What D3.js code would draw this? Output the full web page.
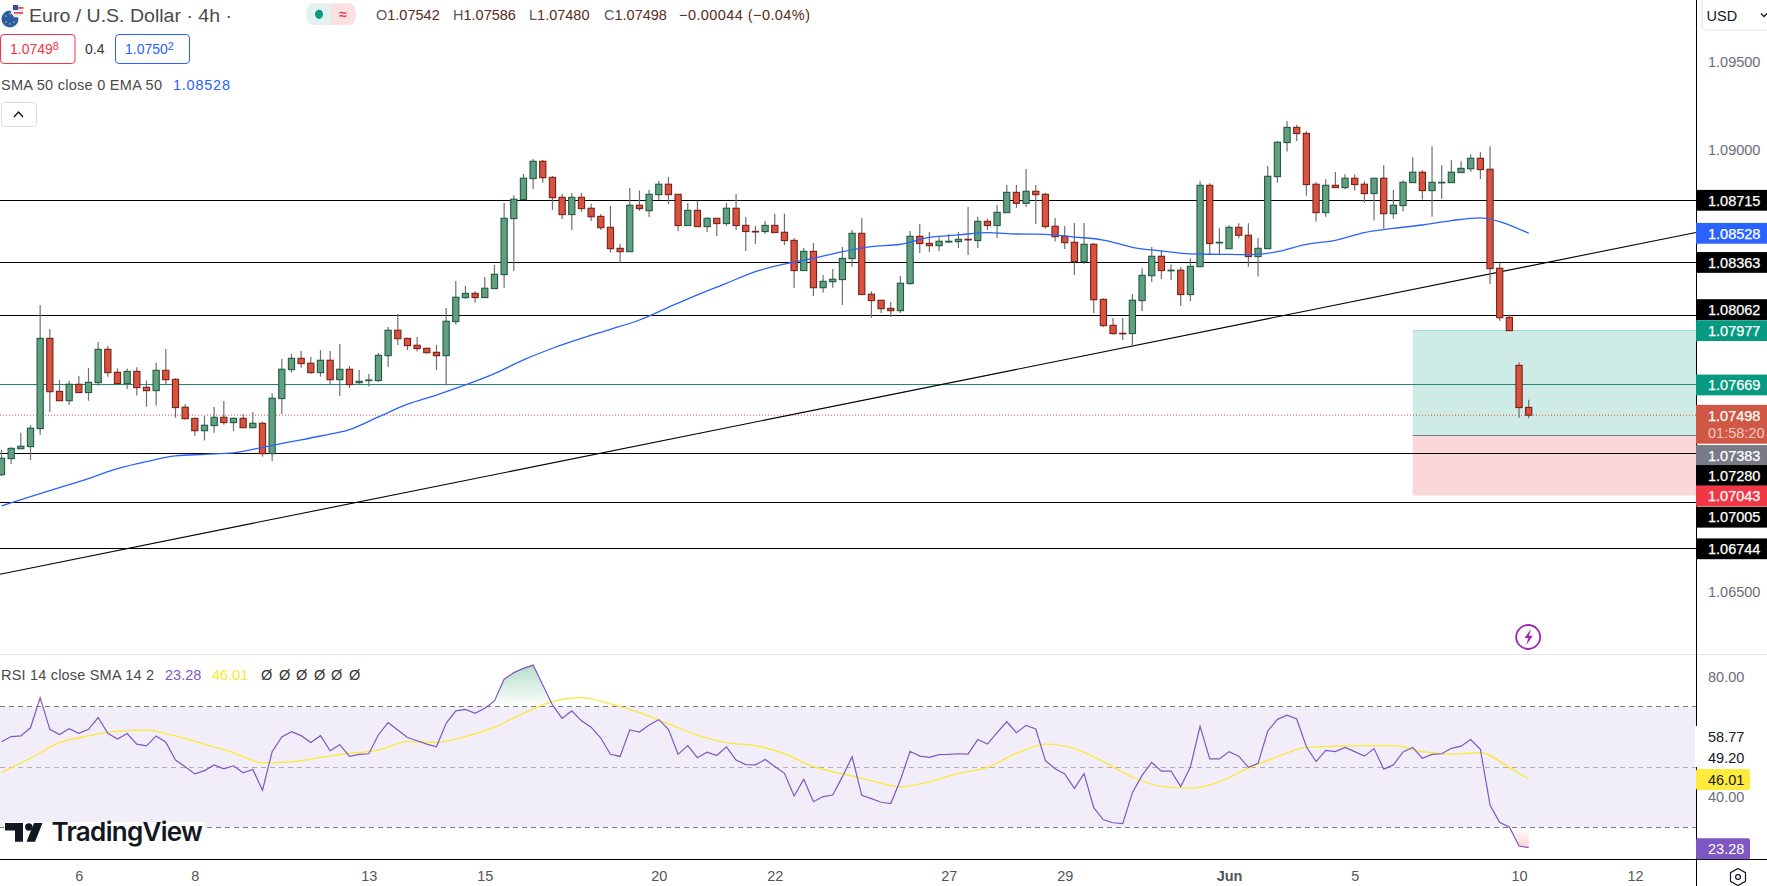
<!DOCTYPE html>
<html><head><meta charset="utf-8">
<style>html,body{margin:0;padding:0;background:#fff}svg{display:block}
text{font-family:"Liberation Sans",sans-serif}</style>
<script src="https://d3js.org/d3.v7.min.js"></script></head><body><svg id="c" width="1767" height="886"></svg>
<script>
const opens=[1.07161,1.07252,1.07308,1.07320,1.07422,1.07933,1.07633,1.07580,1.07673,1.07626,
1.07682,1.07871,1.07741,1.07677,1.07746,1.07656,1.07637,1.07752,1.07701,1.07543,
1.07480,1.07410,1.07439,1.07486,1.07456,1.07480,1.07427,1.07452,1.07280,1.07592,
1.07756,1.07820,1.07792,1.07739,1.07809,1.07699,1.07758,1.07682,1.07694,1.07694,
1.07835,1.07979,1.07933,1.07894,1.07877,1.07854,1.07835,1.08028,1.08164,1.08188,
1.08164,1.08215,1.08294,1.08611,1.08719,1.08838,1.08936,1.08845,1.08732,1.08634,
1.08732,1.08670,1.08624,1.08562,1.08443,1.08424,1.08687,1.08656,1.08747,1.08806,
1.08749,1.08572,1.08658,1.08566,1.08613,1.08583,1.08670,1.08573,1.08539,1.08538,
1.08573,1.08534,1.08488,1.08317,1.08426,1.08220,1.08254,1.08266,1.08385,1.08528,
1.08183,1.08149,1.08103,1.08090,1.08243,1.08511,1.08471,1.08458,1.08479,1.08481,
1.08494,1.08487,1.08596,1.08572,1.08645,1.08760,1.08698,1.08766,1.08749,1.08568,
1.08511,1.08477,1.08368,1.08466,1.08154,1.08007,1.07962,1.07960,1.08147,1.08288,
1.08398,1.08317,1.08319,1.08181,1.08339,1.08800,1.08475,1.08441,1.08562,1.08517,
1.08396,1.08441,1.08849,1.09042,1.09128,1.09094,1.08806,1.08645,1.08800,1.08787,
1.08840,1.08806,1.08753,1.08840,1.08639,1.08685,1.08815,1.08874,1.08770,1.08815,
1.08815,1.08872,1.08894,1.08953,1.08891,1.08330,1.08052,1.07780,1.07542];
const highs=[1.07301,1.07316,1.07399,1.07442,1.08122,1.07986,1.07697,1.07692,1.07720,1.07765,
1.07913,1.07890,1.07763,1.07763,1.07769,1.07695,1.07794,1.07873,1.07707,1.07560,
1.07484,1.07493,1.07544,1.07578,1.07486,1.07505,1.07516,1.07461,1.07622,1.07816,
1.07845,1.07862,1.07828,1.07867,1.07862,1.07901,1.07777,1.07754,1.07731,1.07850,
1.07998,1.08071,1.07937,1.07941,1.07880,1.07896,1.08105,1.08258,1.08230,1.08200,
1.08281,1.08349,1.08700,1.08743,1.08864,1.08949,1.08943,1.08853,1.08751,1.08757,
1.08757,1.08696,1.08638,1.08683,1.08468,1.08785,1.08770,1.08774,1.08824,1.08847,
1.08749,1.08700,1.08713,1.08619,1.08613,1.08700,1.08751,1.08621,1.08570,1.08598,
1.08639,1.08639,1.08502,1.08445,1.08473,1.08292,1.08326,1.08451,1.08547,1.08615,
1.08200,1.08149,1.08139,1.08286,1.08541,1.08581,1.08536,1.08509,1.08524,1.08536,
1.08677,1.08621,1.08611,1.08689,1.08802,1.08802,1.08892,1.08802,1.08757,1.08615,
1.08570,1.08587,1.08587,1.08473,1.08160,1.08049,1.08049,1.08184,1.08330,1.08451,
1.08432,1.08351,1.08337,1.08386,1.08824,1.08811,1.08556,1.08573,1.08585,1.08585,
1.08502,1.08909,1.09049,1.09164,1.09142,1.09106,1.08817,1.08834,1.08875,1.08862,
1.08862,1.08823,1.08840,1.08913,1.08774,1.08828,1.08959,1.08885,1.09021,1.08913,
1.08942,1.08936,1.08976,1.08987,1.09021,1.08358,1.08067,1.07797,1.07586];
const lows=[1.07154,1.07222,1.07308,1.07244,1.07386,1.07516,1.07580,1.07556,1.07626,1.07580,
1.07665,1.07716,1.07673,1.07646,1.07609,1.07546,1.07552,1.07667,1.07484,1.07473,
1.07382,1.07354,1.07399,1.07444,1.07408,1.07427,1.07427,1.07263,1.07239,1.07505,
1.07739,1.07767,1.07733,1.07716,1.07667,1.07607,1.07652,1.07667,1.07660,1.07686,
1.07771,1.07896,1.07867,1.07858,1.07847,1.07754,1.07667,1.08011,1.08156,1.08135,
1.08164,1.08215,1.08220,1.08315,1.08717,1.08779,1.08815,1.08660,1.08609,1.08547,
1.08649,1.08598,1.08547,1.08419,1.08362,1.08424,1.08655,1.08621,1.08717,1.08694,
1.08541,1.08572,1.08566,1.08536,1.08513,1.08570,1.08547,1.08428,1.08468,1.08524,
1.08532,1.08462,1.08218,1.08317,1.08173,1.08192,1.08220,1.08122,1.08339,1.08181,
1.08050,1.08077,1.08056,1.08077,1.08237,1.08417,1.08422,1.08428,1.08473,1.08445,
1.08405,1.08445,1.08547,1.08502,1.08645,1.08672,1.08677,1.08581,1.08555,1.08481,
1.08439,1.08292,1.08356,1.08077,1.07999,1.07954,1.07924,1.07890,1.08088,1.08252,
1.08269,1.08264,1.08116,1.08145,1.08339,1.08405,1.08411,1.08441,1.08500,1.08339,
1.08283,1.08441,1.08815,1.08991,1.09051,1.08741,1.08594,1.08622,1.08787,1.08777,
1.08770,1.08702,1.08600,1.08555,1.08611,1.08651,1.08815,1.08719,1.08622,1.08724,
1.08815,1.08872,1.08877,1.08836,1.08241,1.08033,1.07977,1.07484,1.07480];
const closes=[1.07254,1.07310,1.07322,1.07424,1.07933,1.07631,1.07580,1.07673,1.07626,1.07684,
1.07871,1.07739,1.07677,1.07746,1.07654,1.07637,1.07752,1.07699,1.07541,1.07478,
1.07410,1.07441,1.07486,1.07456,1.07480,1.07427,1.07452,1.07280,1.07594,1.07758,
1.07820,1.07790,1.07739,1.07809,1.07699,1.07758,1.07671,1.07690,1.07697,1.07837,
1.07979,1.07931,1.07892,1.07875,1.07852,1.07835,1.08030,1.08166,1.08188,1.08164,
1.08217,1.08296,1.08613,1.08721,1.08840,1.08936,1.08843,1.08730,1.08634,1.08732,
1.08668,1.08622,1.08560,1.08441,1.08424,1.08687,1.08668,1.08749,1.08806,1.08747,
1.08572,1.08658,1.08566,1.08613,1.08583,1.08670,1.08572,1.08538,1.08538,1.08573,
1.08532,1.08487,1.08317,1.08426,1.08220,1.08256,1.08268,1.08386,1.08528,1.08181,
1.08147,1.08101,1.08090,1.08245,1.08511,1.08470,1.08458,1.08483,1.08483,1.08494,
1.08492,1.08596,1.08572,1.08647,1.08760,1.08698,1.08766,1.08747,1.08566,1.08509,
1.08475,1.08368,1.08466,1.08152,1.08005,1.07960,1.07960,1.08149,1.08290,1.08398,
1.08317,1.08319,1.08181,1.08341,1.08800,1.08470,1.08477,1.08562,1.08517,1.08396,
1.08443,1.08851,1.09044,1.09128,1.09093,1.08804,1.08645,1.08800,1.08787,1.08840,
1.08804,1.08753,1.08840,1.08639,1.08687,1.08817,1.08874,1.08770,1.08817,1.08817,
1.08874,1.08896,1.08953,1.08889,1.08328,1.08050,1.07977,1.07541,1.07498];

const emaBars=[0,3,6,9,12,15,18,21,24,27,30,33,36,39,42,45,48,51,54,57,60,63,66,69,72,75,78,81,84,87,90,93,96,99,102,105,108,111,114,117,120,123,126,129,132,135,138,141,144,147,150,153,156,158];
const emaValues=[1.06984,1.07037,1.07088,1.07139,1.07195,1.07235,1.07267,1.07276,1.07284,1.07316,1.07348,1.07380,1.07416,1.07488,1.07560,1.07612,1.07669,1.07733,1.07811,1.07877,1.07933,1.07984,1.08037,1.08109,1.08179,1.08245,1.08311,1.08354,1.08386,1.08424,1.08453,1.08466,1.08505,1.08519,1.08532,1.08524,1.08522,1.08507,1.08490,1.08449,1.08428,1.08411,1.08409,1.08407,1.08424,1.08466,1.08488,1.08532,1.08556,1.08575,1.08600,1.08615,1.08575,1.08528];

const rsiValues=[58.4,60.1,60.3,63.0,73.0,62.5,60.8,62.7,61.2,62.5,66.4,61.2,59.3,61.1,57.6,57.0,60.3,58.2,52.3,50.1,
47.7,48.8,50.7,49.4,50.4,48.1,49.2,42.3,55.1,60.0,61.7,60.4,58.1,60.4,55.4,57.4,53.5,54.2,54.4,60.7,
64.7,62.3,59.8,58.7,57.6,56.7,64.5,68.6,69.1,67.8,69.5,71.9,79.1,81.3,82.7,83.8,77.2,70.6,66.1,68.6,
65.3,63.2,59.6,54.2,53.5,62.3,61.6,63.9,65.7,62.5,54.2,57.1,53.1,54.9,53.8,56.7,52.3,50.8,50.7,52.5,
50.2,47.9,40.4,45.9,38.5,40.2,40.7,46.8,53.4,40.6,39.5,38.3,37.9,45.7,55.2,53.6,53.2,54.1,54.2,54.4,
54.3,59.1,57.6,61.4,65.0,61.4,63.8,62.6,52.1,49.4,47.7,42.9,47.8,36.5,32.5,31.5,31.2,41.5,47.2,51.5,
48.6,48.6,43.5,50.0,63.5,52.7,52.7,55.1,53.6,49.9,51.2,61.9,65.8,67.2,65.9,56.7,51.8,55.5,55.1,56.5,
55.1,53.6,56.1,49.3,50.7,55.0,56.5,52.9,54.2,54.4,56.2,56.9,59.1,55.9,37.4,31.6,30.1,23.8,23.28];
const smaBars=[0,3,6,9,12,15,18,21,24,27,30,33,36,39,42,45,48,51,54,57,60,63,66,69,72,75,78,81,84,87,90,93,96,99,102,105,108,111,114,117,120,123,126,129,132,135,138,141,144,147,150,153,156,158];
const smaValues=[48.2,52.9,58.1,60.3,61.9,62.2,60.3,57.6,54.8,51.4,51.7,53.2,54.5,55.6,58.4,58.2,60.1,63.2,67.8,71.7,73.0,70.9,68.0,64.3,60.6,58.1,57.1,54.4,50.1,47.7,45.5,43.4,45.1,47.9,49.9,54.5,57.6,56.1,51.8,46.6,43.6,43.0,45.1,49.6,53.4,56.5,56.9,57.1,57.1,55.1,54.3,54.8,49.8,46.01];

const blackLevels=[1.08715,1.08363,1.08062,1.07280,1.07005,1.06744];
const entryLevel=1.07669, lastPrice=1.07498;
const trendBars=[-0.155,175.3], trendPrices=[1.06597,1.08533];
const positionStartBar=146, targetPrice=1.07977, entryPrice=1.07383, stopPrice=1.07043;
const priceTicks=[1.095,1.09,1.065];
const rsiTicks=[80,40];
const rsiLevels=[70,50,30];
const dateBars=[8,20,38,50,68,80,98,110,127,140,157,169];
const dateLabels=["6","8","13","15","20","22","27","29","Jun","5","10","12"];

const priceTags=["1.08715","1.08528","1.08363","1.08062","1.07977","1.07669","1.07383","1.07280","1.07043","1.07005","1.06744"];
const tagFills=["#000","#2962ff","#000","#000","#089981","#089981","#787b86","#000","#f23645","#000","#000"];
const tagShift=[0,0,0,-6,0,0,20,21.8,0.5,15,0.5];

const svg=d3.select("#c");
const W=1767,axisX=1696;
const x=d3.scaleLinear().domain([0,158]).range([1.5,1528.7]);
const y=d3.scaleLinear().domain([1.08715,1.06744]).range([200.3,548.3]);
const r=d3.scaleLinear().domain([70,30]).range([706.7,827.3]);

const defs=svg.append("defs");
defs.append("clipPath").attr("id","mainClip").append("rect").attr("width",axisX).attr("height",654);
defs.append("clipPath").attr("id","above").append("rect").attr("width",axisX).attr("y",655).attr("height",r(70)-655);
defs.append("clipPath").attr("id","below").append("rect").attr("width",axisX).attr("y",r(30)).attr("height",859-r(30));
const g1=defs.append("linearGradient").attr("id","gUp").attr("gradientUnits","userSpaceOnUse").attr("x1",0).attr("x2",0).attr("y1",r(84)).attr("y2",r(70));
g1.append("stop").attr("offset",0).attr("stop-color","#4caf7a").attr("stop-opacity",.42);
g1.append("stop").attr("offset",1).attr("stop-color","#4caf7a").attr("stop-opacity",0);
const g2=defs.append("linearGradient").attr("id","gDn").attr("gradientUnits","userSpaceOnUse").attr("x1",0).attr("x2",0).attr("y1",r(30)).attr("y2",r(23));
g2.append("stop").attr("offset",0).attr("stop-color","#f23645").attr("stop-opacity",0);
g2.append("stop").attr("offset",1).attr("stop-color","#f23645").attr("stop-opacity",.24);

const main=svg.append("g").attr("clip-path","url(#mainClip)");
const px=x(positionStartBar);
main.append("rect").attr("x",px).attr("width",axisX-px).attr("y",y(targetPrice)).attr("height",y(entryPrice)-y(targetPrice)).attr("fill","#089981").attr("fill-opacity",.2);
main.append("rect").attr("x",px).attr("width",axisX-px).attr("y",y(entryPrice)).attr("height",y(stopPrice)-y(entryPrice)).attr("fill","#f23645").attr("fill-opacity",.2);
main.append("line").attr("x1",px).attr("x2",axisX).attr("y1",y(targetPrice)).attr("y2",y(targetPrice)).attr("stroke","#9adccf");
main.append("line").attr("x1",px).attr("x2",axisX).attr("y1",y(entryPrice)).attr("y2",y(entryPrice)).attr("stroke","#787b86");

main.selectAll(".lv").data(blackLevels).join("line").attr("x1",0).attr("x2",axisX).attr("y1",d=>y(d)).attr("y2",d=>y(d)).attr("stroke","#000").attr("stroke-width",1).attr("shape-rendering","crispEdges");
main.append("line").attr("x1",0).attr("x2",axisX).attr("y1",y(entryLevel)).attr("y2",y(entryLevel)).attr("stroke","#1f8a74").attr("stroke-width",1).attr("shape-rendering","crispEdges");
main.append("line").attr("x1",0).attr("x2",axisX).attr("y1",y(lastPrice)).attr("y2",y(lastPrice)).attr("stroke","#e0503f").attr("stroke-width",1).attr("stroke-dasharray","1 2");
main.append("path").attr("d",d3.line()(trendBars.map((b,i)=>[x(b),y(trendPrices[i])]))).attr("fill","none").attr("stroke","#000").attr("stroke-width",1.1);

const idx=d3.range(opens.length);
const up=i=>closes[i]>=opens[i];
main.selectAll(".w").data(idx).join("line").attr("x1",i=>x(i)).attr("x2",i=>x(i)).attr("y1",i=>y(highs[i])).attr("y2",i=>y(lows[i])).attr("stroke","#6f6f6f").attr("stroke-width",1.2);
main.selectAll(".b").data(idx).join("rect").attr("x",i=>x(i)-3.1).attr("width",6.2)
 .attr("y",i=>y(Math.max(opens[i],closes[i])))
 .attr("height",i=>Math.max(0.6,Math.abs(y(opens[i])-y(closes[i]))))
 .attr("fill",i=>up(i)?"#619f80":"#d85240").attr("stroke",i=>up(i)?"#1f5b42":"#7a2016").attr("stroke-width",1.1);

main.append("path").attr("d",d3.line().x((b)=>x(b)).y((b,i)=>y(emaValues[i])).curve(d3.curveMonotoneX)(emaBars)).attr("fill","none").attr("stroke","#2962ff").attr("stroke-width",1.3);

// RSI pane
const lp=svg.append("g");
lp.append("rect").attr("x",0).attr("width",axisX).attr("y",r(70)).attr("height",r(30)-r(70)).attr("fill","#f1eefa");
lp.selectAll(".l").data(rsiLevels).join("line").attr("x1",0).attr("x2",axisX).attr("y1",d=>r(d)).attr("y2",d=>r(d))
 .attr("stroke",d=>d==50?"#b2adb8":"#787b86").attr("stroke-width",1).attr("stroke-dasharray","5 4").attr("shape-rendering","crispEdges");
lp.append("path").attr("clip-path","url(#above)").attr("d",d3.area().x((d,i)=>x(i)).y0(r(70)).y1(d=>r(d))(rsiValues)).attr("fill","url(#gUp)");
lp.append("path").attr("clip-path","url(#below)").attr("d",d3.area().x((d,i)=>x(i)).y0(r(30)).y1(d=>r(d))(rsiValues)).attr("fill","url(#gDn)");
lp.append("path").attr("d",d3.line().x(b=>x(b)).y((b,i)=>r(smaValues[i])).curve(d3.curveMonotoneX)(smaBars)).attr("fill","none").attr("stroke","#ffe733").attr("stroke-width",1.3);
lp.append("path").attr("d",d3.line().x((d,i)=>x(i)).y(d=>r(d))(rsiValues)).attr("fill","none").attr("stroke","#7e57c2").attr("stroke-width",1.2);

// TradingView logo
const logo=svg.append("g");
logo.append("rect").attr("x",4).attr("y",822).attr("width",201).attr("height",30).attr("fill","#fff");
logo.append("path").attr("d","M5 823H23V841.7H15V830.5H5Z M42.5 823L35 841.7H26.5L34 823Z").attr("fill","#131722");
logo.append("circle").attr("cx",28.8).attr("cy",827).attr("r",3.7).attr("fill","#131722");
logo.append("text").attr("x",51.5).attr("y",841).attr("font-size",26).attr("font-weight",600).attr("fill","#131722").style("font-family","Inter").attr("letter-spacing","-0.7").text("TradingView");

// pane frames
svg.append("line").attr("x1",0).attr("x2",W).attr("y1",654.3).attr("y2",654.3).attr("stroke","#e0e3eb").attr("stroke-width",1).attr("shape-rendering","crispEdges");
svg.append("line").attr("x1",0).attr("x2",W).attr("y1",859.3).attr("y2",859.3).attr("stroke","#000").attr("stroke-width",1).attr("shape-rendering","crispEdges");
svg.append("line").attr("x1",axisX).attr("x2",axisX).attr("y1",0).attr("y2",886).attr("stroke","#000").attr("stroke-width",1).attr("shape-rendering","crispEdges");

// axes via d3
const ax=svg.append("g").attr("transform",`translate(${axisX},0)`).call(d3.axisRight(y).tickValues(priceTicks).tickSize(0).tickPadding(12).tickFormat(d3.format(".5f")));
ax.select(".domain").remove();
ax.selectAll("text").attr("font-size",14.5).attr("fill","#6a6d78").style("font-family","Liberation Sans");
const ax2=svg.append("g").attr("transform",`translate(${axisX},0)`).call(d3.axisRight(r).tickValues(rsiTicks).tickSize(0).tickPadding(12).tickFormat(d3.format(".2f")));
ax2.select(".domain").remove();
ax2.selectAll("text").attr("font-size",14.5).attr("fill","#6a6d78").style("font-family","Liberation Sans");
const ax3=svg.append("g").attr("transform","translate(0,859.3)").call(d3.axisBottom(x).tickValues(dateBars).tickSize(0).tickPadding(11).tickFormat((d,i)=>dateLabels[i]));
ax3.select(".domain").remove();
ax3.selectAll("text").attr("font-size",14.5).attr("fill","#555").style("font-family","Liberation Sans").attr("font-weight",d=>d==127?700:400);

// price tags
const mono=s=>s.style("font-family","Liberation Sans");
const tg=svg.append("g");
priceTags.forEach((t,i)=>{
  const cy=y(+t)+tagShift[i];
  tg.append("rect").attr("x",axisX).attr("width",W-axisX).attr("y",cy-10.4).attr("height",20.8).attr("fill",tagFills[i]);
  mono(tg.append("text")).attr("x",1708).attr("y",cy+5.2).attr("font-size",14.5).attr("fill","#fff").attr("stroke","#fff").attr("stroke-width",.25).text(t);
});
const ly=y(lastPrice);
tg.append("rect").attr("x",axisX).attr("width",W-axisX).attr("y",ly-10.3).attr("height",38.8).attr("fill","#cf5744");
mono(tg.append("text")).attr("x",1708).attr("y",ly+5.4).attr("font-size",14.5).attr("fill","#fff").attr("stroke","#fff").attr("stroke-width",.25).text("1.07498");
mono(tg.append("text")).attr("x",1708).attr("y",ly+23).attr("font-size",14.5).attr("fill","#f7c9c2").text("01:58:20");

// RSI tags
svg.append("rect").attr("x",axisX-1).attr("y",726).attr("width",54).attr("height",41).attr("fill","#fff");
const rsiPlain=[["58.77",742],["49.20",762.5]];
rsiPlain.forEach(d=>mono(svg.append("text")).attr("x",1708).attr("y",d[1]).attr("font-size",14.5).attr("fill","#131722").text(d[0]));
svg.append("rect").attr("x",axisX).attr("y",769).attr("width",54).attr("height",21).attr("rx",2).attr("fill","#ffeb3b");
mono(svg.append("text")).attr("x",1708).attr("y",784.6).attr("font-size",14.5).attr("fill","#131722").text("46.01");
svg.append("rect").attr("x",axisX).attr("y",838.3).attr("width",54).attr("height",21).attr("rx",2).attr("fill","#7e57c2");
mono(svg.append("text")).attr("x",1708).attr("y",854).attr("font-size",14.5).attr("fill","#fff").text("23.28");

// currency + icons
svg.append("path").attr("d","M1702 -1V25a5 5 0 0 0 5 5H1768").attr("fill","none").attr("stroke","#e0e3eb").attr("stroke-width",1.1);
mono(svg.append("text")).attr("x",1706.5).attr("y",21).attr("font-size",14.5).attr("fill","#131722").text("USD");
svg.append("path").attr("d","M1761 13.5l3 3 3-3").attr("fill","none").attr("stroke","#131722").attr("stroke-width",1.3);
svg.append("path").attr("d","M1738 868.5l7.5 4.2v8.6l-7.5 4.2-7.5-4.2v-8.6z").attr("fill","none").attr("stroke","#131722").attr("stroke-width",1.2);
svg.append("circle").attr("cx",1738).attr("cy",877).attr("r",2.4).attr("fill","none").attr("stroke","#131722").attr("stroke-width",1.2);
svg.append("circle").attr("cx",x(158)-0.5).attr("cy",637).attr("r",12).attr("fill","#fff").attr("stroke","#9c27b0").attr("stroke-width",1.8);
svg.append("path").attr("d","M1531 629l-6.5 9h3.8l-2 7 6.5-9.2h-3.8z").attr("fill","#9c27b0");

// header
const hdr=svg.append("g");
hdr.append("circle").attr("cx",10).attr("cy",19).attr("r",8.5).attr("fill","#2a5ca8");
[[6,16],[10,14],[14,17],[6,22],[10,24],[14,22]].forEach(d=>hdr.append("circle").attr("cx",d[0]).attr("cy",d[1]).attr("r",.8).attr("fill","#e3c84a"));
hdr.append("circle").attr("cx",17.5).attr("cy",10.5).attr("r",6.5).attr("fill","#e8e8f0").attr("stroke","#fff");
hdr.append("rect").attr("x",13).attr("y",5).attr("width",5).attr("height",5).attr("fill","#3c4f9a");
hdr.append("rect").attr("x",18).attr("y",7).attr("width",5.5).attr("height",1.8).attr("fill","#e0525c");
hdr.append("rect").attr("x",14).attr("y",12).attr("width",9).attr("height",1.8).attr("fill","#e0525c");
const T=(x0,yy,size,fill,s)=>hdr.append("text").attr("x",x0).attr("y",yy).attr("font-size",size).attr("fill",fill).text(s);
T(29,21.5,18,"#4a4a4a","Euro / U.S. Dollar · 4h ·").attr("textLength",203).attr("lengthAdjust","spacingAndGlyphs");
hdr.append("path").attr("d","M331 3.5H312a6 10.8 0 0 0 -6 10.8a6 10.8 0 0 0 6 10.8H331Z").attr("fill","#e0f1ee");
hdr.append("path").attr("d","M331 3.5H350a6 10.8 0 0 1 6 10.8a6 10.8 0 0 1 -6 10.8H331Z").attr("fill","#fbe0e3");
hdr.append("ellipse").attr("cx",319).attr("cy",14.3).attr("rx",4).attr("ry",4.6).attr("fill","#089981");
T(343,19,14,"#f23645","≈").attr("text-anchor","middle").attr("font-weight",700);
const ohlcLetters=["O","H","L","C"], ohlcVals=["1.07542","1.07586","1.07480","1.07498"], ohlcX=[376,453,529,604];
ohlcLetters.forEach((l,i)=>{
  const t=T(ohlcX[i],20,14.5,"#5a5a5a",l);
  t.append("tspan").attr("fill","#5d2a20").text(ohlcVals[i]);
});
T(679,20,14.5,"#5d2a20","−0.00044 (−0.04%)").attr("textLength",131);
hdr.append("rect").attr("x",0.5).attr("y",34.5).attr("width",74.5).attr("height",29).attr("rx",3.5).attr("fill","#fff").attr("stroke","#f23645");
hdr.append("rect").attr("x",115.5).attr("y",34.5).attr("width",74).attr("height",29).attr("rx",3.5).attr("fill","#fff").attr("stroke","#2962ff");
const bid=T(10,54,14,"#f23645","1.0749"); bid.append("tspan").attr("dy",-4).attr("font-size",11).text("8");
T(85,54,14,"#333","0.4");
const ask=T(125,54,14,"#2962ff","1.0750"); ask.append("tspan").attr("dy",-4).attr("font-size",11).text("2");
T(1,90,14.5,"#4a4a4a","SMA 50 close 0 EMA 50").attr("textLength",161);
T(173,90,14.5,"#2962ff","1.08528").attr("textLength",57);
hdr.append("rect").attr("x",1.5).attr("y",102.5).attr("width",35).attr("height",24).attr("rx",3).attr("fill","#fff").attr("stroke","#dcdcdc");
hdr.append("path").attr("d","M14 117l4.5-5 4.5 5").attr("fill","none").attr("stroke","#131722").attr("stroke-width",1.4);
// RSI legend
T(1,680,14.5,"#4a4a4a","RSI 14 close SMA 14 2").attr("textLength",153);
T(165,680,14.5,"#7e57c2","23.28");
T(212,680,14.5,"#fde72e","46.01");
[261,279,296,314,331,349].forEach(xx=>T(xx,680,14.5,"#333","Ø"));
</script></body></html>
